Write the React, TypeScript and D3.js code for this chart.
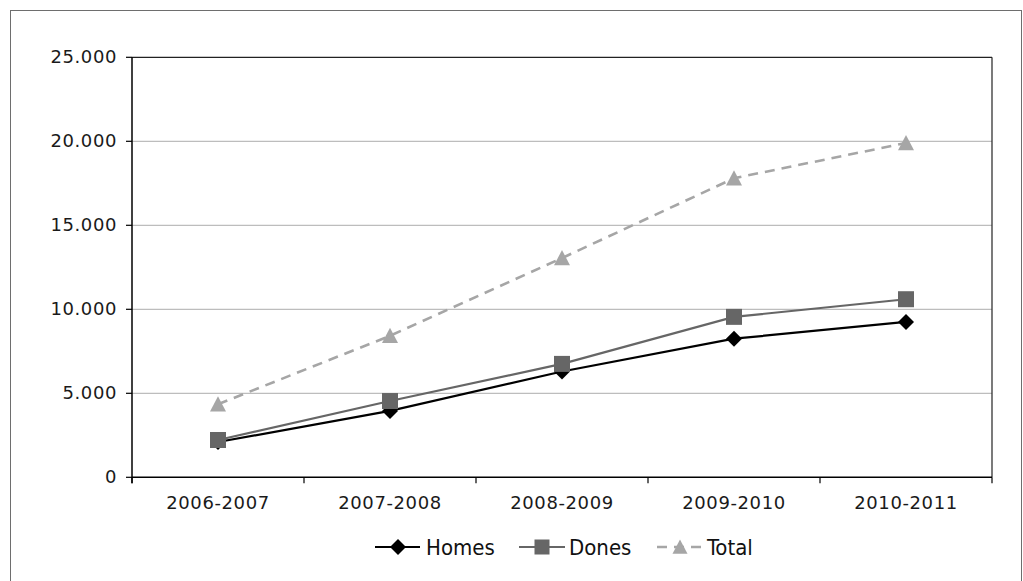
import React from "react";
import * as d3 from "d3";

const categories = ["2006-2007", "2007-2008", "2008-2009", "2009-2010", "2010-2011"];
const homes = [2100, 3950, 6300, 8250, 9250];
const dones = [2220, 4540, 6750, 9550, 10600];
const total = [4350, 8420, 13050, 17800, 19900];
const yTicks = [0, 5000, 10000, 15000, 20000, 25000];
const yTickLabels = ["0", "5.000", "10.000", "15.000", "20.000", "25.000"];

const W = 1023, H = 581;
const left = 132, right = 992, top = 57.3, bottom = 477.3;
const axisFont = "'DejaVu Sans', sans-serif";
const legendFont = "'DejaVu Sans Condensed', 'Liberation Sans Narrow', 'DejaVu Sans', sans-serif";

export default function App() {
  const x = d3.scaleBand<string>().domain(categories).range([left, right]);
  const y = d3.scaleLinear().domain([0, 25000]).range([bottom, top]);
  const cx = (c: string) => (x(c) as number) + x.bandwidth() / 2;
  const line = d3.line<number>().x((_, i) => cx(categories[i])).y((v) => y(v));

  const diamond = (px: number, py: number, s = 8, fill = "#000") => (
    <path d={`M${px},${py - s}L${px + s},${py}L${px},${py + s}L${px - s},${py}Z`} fill={fill} />
  );
  const square = (px: number, py: number, s = 8, fill = "#666") => (
    <rect x={px - s} y={py - s} width={2 * s} height={2 * s} fill={fill} />
  );
  const tri = (px: number, py: number, s = 8, fill = "#a6a6a6") => (
    <path d={`M${px},${py - s}L${px + s},${py + s * 0.9}L${px - s},${py + s * 0.9}Z`} fill={fill} />
  );

  const ticksX = [...categories.map((c) => x(c) as number), right];
  const ly = 547;

  return (
    <svg width={W} height={H} style={{ position: "absolute", left: 0, top: 0 }}>
      <rect x={0} y={0} width={W} height={H} fill="#fff" />
      <rect x={10.5} y={10.5} width={1011} height={620} fill="none" stroke="#6e6e6e" strokeWidth={1} />
      {yTicks.map((t, i) => (
        <g key={t}>
          {i > 0 && i < yTicks.length - 1 && (
            <line x1={left} x2={right} y1={y(t)} y2={y(t)} stroke="#bdbdbd" strokeWidth={1.3} />
          )}
          <line x1={left - 6} x2={left} y1={y(t)} y2={y(t)} stroke="#000" strokeWidth={1.2} />
          <text x={117} y={y(t) + 5.5} textAnchor="end" fontFamily={axisFont} fontSize={18} letterSpacing={0.6} fill="#1a1a1a">
            {yTickLabels[i]}
          </text>
        </g>
      ))}
      <line x1={left} x2={right} y1={top} y2={top} stroke="#222" strokeWidth={1.2} />
      <line x1={right} x2={right} y1={top} y2={bottom} stroke="#222" strokeWidth={1.2} />
      <line x1={left} x2={left} y1={top} y2={bottom + 6} stroke="#000" strokeWidth={1.5} />
      <line x1={left} x2={right} y1={bottom} y2={bottom} stroke="#000" strokeWidth={1.5} />
      {ticksX.map((t, i) => (
        <line key={i} x1={t} x2={t} y1={bottom} y2={bottom + 6} stroke="#000" strokeWidth={1.2} />
      ))}
      {categories.map((c) => (
        <text key={c} x={cx(c)} y={509} textAnchor="middle" fontFamily={axisFont} fontSize={18} letterSpacing={0.6} fill="#1a1a1a">
          {c}
        </text>
      ))}

      <path d={line(total) as string} fill="none" stroke="#a6a6a6" strokeWidth={2.6} strokeDasharray="10,7" />
      <path d={line(dones) as string} fill="none" stroke="#666" strokeWidth={2.2} />
      <path d={line(homes) as string} fill="none" stroke="#000" strokeWidth={2.2} />
      {homes.map((v, i) => <g key={"h" + i}>{diamond(cx(categories[i]), y(v))}</g>)}
      {dones.map((v, i) => <g key={"d" + i}>{square(cx(categories[i]), y(v))}</g>)}
      {total.map((v, i) => <g key={"t" + i}>{tri(cx(categories[i]), y(v))}</g>)}

      <g>
        <line x1={375} x2={420} y1={ly} y2={ly} stroke="#000" strokeWidth={2.2} />
        {diamond(398, ly, 8)}
        <text x={426} y={ly + 8} fontFamily={legendFont} fontSize={22} fill="#111">Homes</text>
        <line x1={519} x2={565} y1={ly} y2={ly} stroke="#666" strokeWidth={2.2} />
        {square(542, ly, 7.5)}
        <text x={569} y={ly + 8} fontFamily={legendFont} fontSize={22} fill="#111">Dones</text>
        <line x1={657} x2={703} y1={ly} y2={ly} stroke="#a6a6a6" strokeWidth={2.6} strokeDasharray="10,7" />
        {tri(680, ly, 7.5)}
        <text x={707} y={ly + 8} fontFamily={legendFont} fontSize={22} fill="#111">Total</text>
      </g>
    </svg>
  );
}
